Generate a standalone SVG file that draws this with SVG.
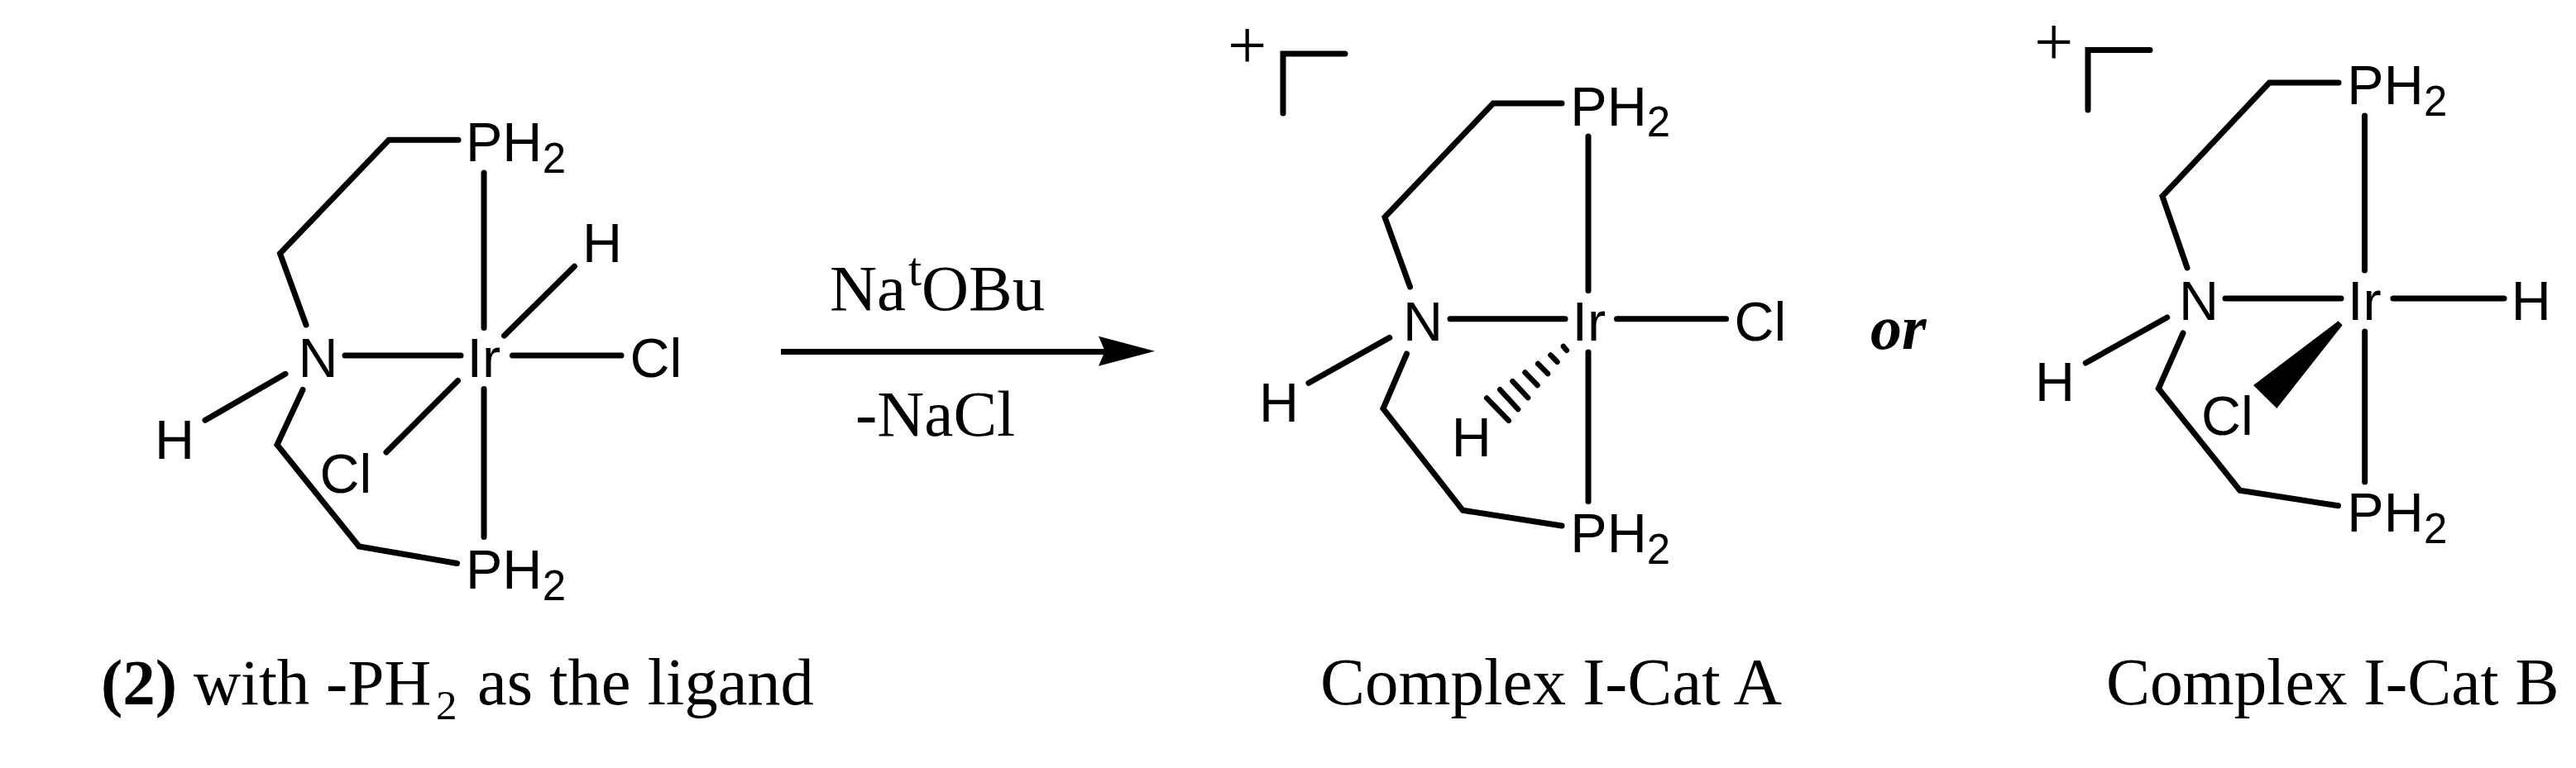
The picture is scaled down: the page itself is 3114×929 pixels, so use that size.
<svg xmlns="http://www.w3.org/2000/svg" width="3114" height="929" viewBox="0 0 3114 929">
<style>
.b{fill:none;stroke:#000;stroke-width:7;stroke-linecap:round;stroke-linejoin:miter}
.h{fill:none;stroke:#000;stroke-width:6.500;stroke-linecap:round}
.a{font-family:"Liberation Sans",Arial,sans-serif;font-size:66.500px;fill:#000}
.s{font-family:"Liberation Sans",Arial,sans-serif;font-size:51px;fill:#000}
.t{font-family:"Liberation Serif","Times New Roman",serif;font-size:79px;fill:#000}
.sub{font-size:51px}
.sup{font-size:58px}
.plus{font-size:84px}
</style>
<rect width="3114" height="929" fill="#fff"/>
<g id="connectors">
<path class="b" d="M554 169.300H470L338.500 306.700L370 393"/>
<path class="b" d="M585 209V396.500"/>
<path class="b" d="M609.600 406L694.400 322.300"/>
<path class="b" d="M417 430H557"/>
<path class="b" d="M619.500 430H751"/>
<path class="b" d="M345 452.300L248 508.300"/>
<path class="b" d="M366 471.500L335 538L434 661L552.500 681.500"/>
<path class="b" d="M553.500 460.500L467 547"/>
<path class="b" d="M585 470.500V649.500"/>
<path id="arrow-line" d="M944 425.500H1336" fill="none" stroke="#000" stroke-width="7"/>
<path id="arrow-head" d="M1396 424.700L1328 406.700L1335.700 424.700L1328 442.700Z"/>
<path class="b" d="M1626 65H1551V137"/>
<path class="b" d="M1888 125H1805L1674 262.700L1704.500 347"/>
<path class="b" d="M1920 165V351.500"/>
<path class="b" d="M1753 385.700H1892"/>
<path class="b" d="M1954.500 385.700H2086.500"/>
<path class="b" d="M1679.700 408.400L1582 463.300"/>
<path class="b" d="M1700.500 428L1672 494.300L1768.300 617.300L1888 636"/>
<path class="b" d="M1920 426V606.500"/>
<path class="h" d="M1797.200 481.500L1823.800 508.800M1813.200 471.200L1835.100 495.100M1828.500 461.200L1847.100 481.100M1843.500 450.500L1858.500 466.100M1859.200 439.900L1871.100 452.100M1874.500 429.500L1882.500 437.800M1889.900 418.900L1893.800 423.800"/>
<path class="b" d="M2599 60.400H2524V133"/>
<path class="b" d="M2827 100H2743.300L2614 237.300L2644 324"/>
<path class="b" d="M2858.500 140V327"/>
<path class="b" d="M2690 361H2830"/>
<path class="b" d="M2893 361H3027"/>
<path class="b" d="M2619.700 384L2521.300 439"/>
<path class="b" d="M2639 403L2609.300 470L2707.700 593.300L2826.500 611.800"/>
<path class="b" d="M2858.700 401V583"/>
<path id="wedge" d="M2826.700 388.300L2831.700 393.300L2752.300 494L2724 466Z"/>
</g>
<g id="c1-P-top"><text class="a" x="563" y="195">PH</text><text class="s" x="655.800" y="209">2</text></g>
<g id="c1-P-bottom"><text class="a" x="563" y="711.800">PH</text><text class="s" x="655.800" y="725.600">2</text></g>
<g id="c1-Ir"><text class="a" x="564.500" y="456">Ir</text></g>
<g id="c1-N"><text class="a" x="360.500" y="456">N</text></g>
<g id="c1-Cl-right"><text class="a" x="761.600" y="456">Cl</text></g>
<g id="c1-H-top"><text class="a" x="704" y="317.300">H</text></g>
<g id="c1-H-left"><text class="a" x="187" y="555">H</text></g>
<g id="c1-Cl-lower"><text class="a" x="386.600" y="595.500">Cl</text></g>
<g id="caption-1"><text class="t" x="122" y="852"><tspan font-weight="bold">(2)</tspan> with -PH</text><text class="t sub" x="527" y="870">2</text><text class="t" style="font-size:80.500px" x="577" y="852">as the ligand</text></g>
<g id="reagents"><text class="t" x="1003" y="375">Na</text><text class="t sup" x="1098" y="345">t</text><text class="t" x="1114" y="375">OBu</text><text class="t" x="1034" y="526.700">-NaCl</text></g>
<g id="c2-charge"><text class="t plus" x="1484" y="83">+</text></g>
<g id="c2-P-top"><text class="a" x="1898.300" y="151.700">PH</text><text class="s" x="1990.800" y="165">2</text></g>
<g id="c2-P-bottom"><text class="a" x="1898.300" y="668.300">PH</text><text class="s" x="1990.800" y="681.700">2</text></g>
<g id="c2-N"><text class="a" x="1696" y="411.700">N</text></g>
<g id="c2-Ir"><text class="a" x="1900.500" y="411.700">Ir</text></g>
<g id="c2-Cl"><text class="a" x="2096.600" y="411.700">Cl</text></g>
<g id="c2-H-left"><text class="a" x="1522" y="510">H</text></g>
<g id="c2-H-hash"><text class="a" x="1754.800" y="551.700">H</text></g>
<g id="caption-2"><text class="t" style="font-size:81px" x="1596" y="852">Complex I-Cat A</text></g>
<g id="or"><text class="t" style="font-size:76px;font-weight:bold;font-style:italic" x="2261" y="422">or</text></g>
<g id="c3-charge"><text class="t plus" x="2459" y="78.500">+</text></g>
<g id="c3-P-top"><text class="a" x="2837.300" y="126">PH</text><text class="s" x="2930" y="140">2</text></g>
<g id="c3-P-bottom"><text class="a" x="2837.300" y="643.300">PH</text><text class="s" x="2930" y="656.700">2</text></g>
<g id="c3-N"><text class="a" x="2634" y="386.700">N</text></g>
<g id="c3-Ir"><text class="a" x="2838" y="386.700">Ir</text></g>
<g id="c3-H-right"><text class="a" x="3035.800" y="386.700">H</text></g>
<g id="c3-H-left"><text class="a" x="2460" y="485">H</text></g>
<g id="c3-Cl"><text class="a" x="2661" y="526">Cl</text></g>
<g id="caption-3"><text class="t" style="font-size:79.500px" x="2546" y="852">Complex I-Cat B</text></g>
</svg>
